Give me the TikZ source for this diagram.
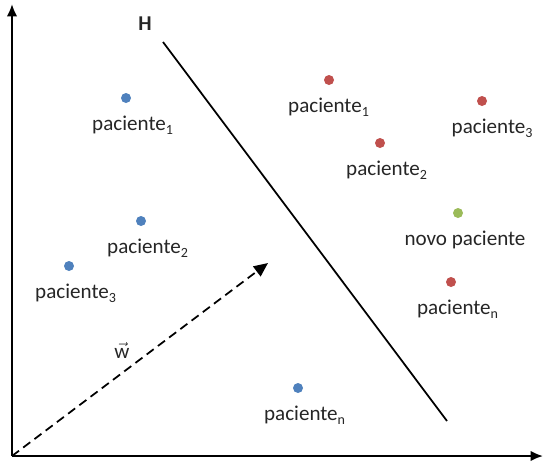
\documentclass[tikz,border=0pt]{standalone}
\usepackage{fontspec}
\setmainfont{Carlito}
\usetikzlibrary{positioning,arrows.meta}
\begin{document}
\begin{tikzpicture}[x=0.02cm,y=-0.02cm]
\tikzset{
    axis/.style={line width=1.2pt, -{Latex[length=7pt,width=6pt]}},
    hyper/.style={line width=1pt},
    wvec/.style={line width=1pt, dashed, dash pattern=on 5pt off 3pt, -{Triangle[length=8pt,width=7pt]}},
    dot/.style={circle, inner sep=0pt, minimum size=0.2cm},
    blue dot/.style={dot, fill=blue!55!cyan!70!black!85},
    red dot/.style={dot, fill=red!70!black!90},
    green dot/.style={dot, fill=green!55!olive!80},
    lbl/.style={font=\fontsize{12}{14}\selectfont, text=black!85, inner sep=1pt}}
\definecolor{dotblue}{RGB}{79,129,189}
\definecolor{dotred}{RGB}{192,80,77}
\definecolor{dotgreen}{RGB}{155,187,89}
\tikzset{blue dot/.append style={fill=dotblue}, red dot/.append style={fill=dotred}, green dot/.append style={fill=dotgreen}}

\useasboundingbox (0,0) rectangle (544,464);

% axes
\coordinate (O) at (12,456);
\coordinate (Ytop) at (12,4);
\coordinate (Xend) at (543,456);
\draw[axis] (O) -- (Ytop);
\draw[axis] (O) -- (Xend);

% hyperplane
\coordinate (H1) at (163,42);
\coordinate (H2) at (447,421);
\draw[hyper] (H1) -- (H2);
\node[lbl, font=\bfseries\fontsize{12}{14}\selectfont] (Hlbl) at (145,24) {H};

% vector w
\coordinate (Wtip) at (268,263);
\draw[wvec] (O) -- (Wtip);
\node[lbl] (wlbl) at (122,350) {$\vec{\mbox{w}}$};

% blue side
\node[blue dot] (b1) at (126,98) {};
\node[blue dot] (b2) at (141,221) {};
\node[blue dot] (b3) at (69,266) {};
\node[blue dot] (bn) at (298,388) {};
\node[lbl, below=0.22cm of b1, xshift=4] (b1lbl) {paciente\textsubscript{1}};
\node[lbl, below=0.22cm of b2, xshift=4] (b2lbl) {paciente\textsubscript{2}};
\node[lbl, below=0.22cm of b3, xshift=4] (b3lbl) {paciente\textsubscript{3}};
\node[lbl, below=0.22cm of bn, xshift=4] (bnlbl) {paciente\textsubscript{n}};

% red side
\node[red dot] (r1) at (329,80) {};
\node[red dot] (r2) at (380,143) {};
\node[red dot] (r3) at (482,101) {};
\node[red dot] (rn) at (451,282) {};
\node[lbl, below=0.22cm of r1, xshift=0] (r1lbl) {paciente\textsubscript{1}};
\node[lbl, below=0.22cm of r2, xshift=4] (r2lbl) {paciente\textsubscript{2}};
\node[lbl, below=0.22cm of r3, xshift=6] (r3lbl) {paciente\textsubscript{3}};
\node[lbl, below=0.22cm of rn, xshift=4] (rnlbl) {paciente\textsubscript{n}};

% new point
\node[green dot] (nv) at (458,213) {};
\node[lbl, below=0.22cm of nv, xshift=4] (nvlbl) {novo paciente};

\end{tikzpicture}
\end{document}
